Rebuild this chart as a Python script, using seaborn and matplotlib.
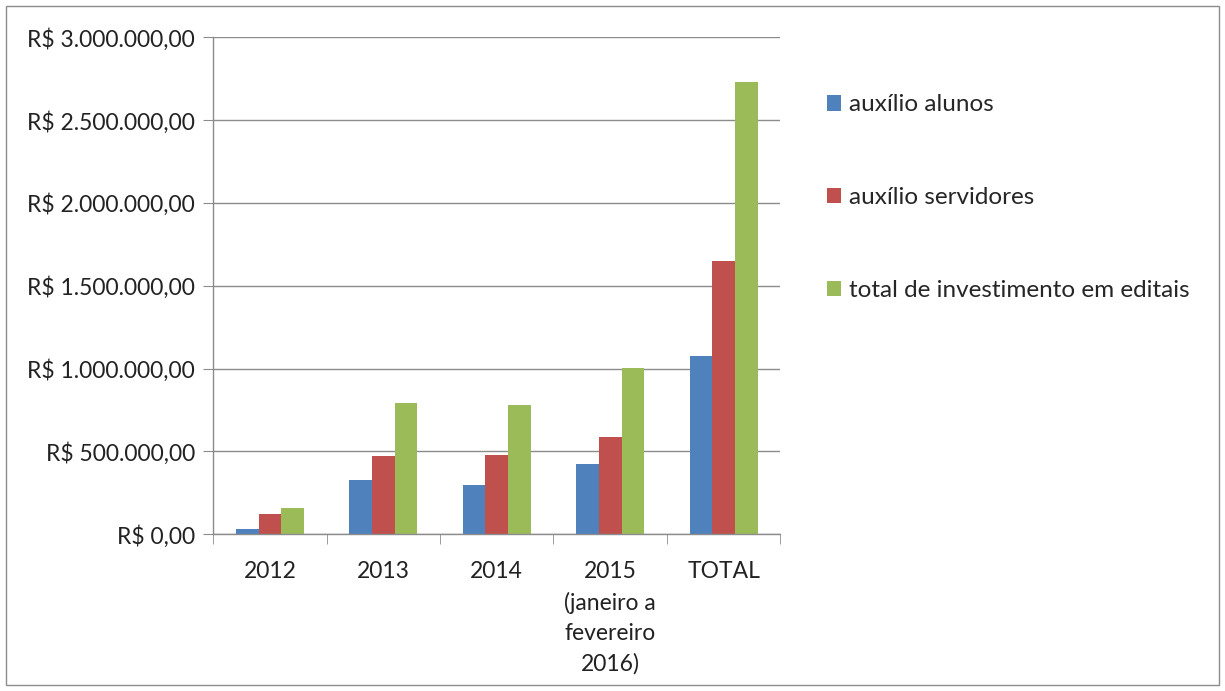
import matplotlib
matplotlib.use("Agg")
import matplotlib.pyplot as plt
import matplotlib.ticker as mticker
from matplotlib.patches import Rectangle
import pandas as pd
import seaborn as sns

categorias = ["2012", "2013", "2014", "2015\n(janeiro a\nfevereiro\n2016)", "TOTAL"]
auxilio_alunos = [34000, 324000, 294000, 421000, 1076000]
auxilio_servidores = [119000, 469000, 479000, 584000, 1648000]
total_editais = [159000, 790000, 778000, 1002000, 2730000]
series = ["auxílio alunos", "auxílio servidores", "total de investimento em editais"]
cores = ["#4F81BD", "#C0504D", "#9BBB59"]

df = pd.DataFrame({
    "categoria": categorias * 3,
    "serie": [series[0]] * 5 + [series[1]] * 5 + [series[2]] * 5,
    "valor": auxilio_alunos + auxilio_servidores + total_editais,
})

sns.set_style("white")
plt.rcParams["font.family"] = ["Lato", "DejaVu Sans"]

fig = plt.figure(figsize=(12.25, 6.91), dpi=100)
ax = fig.add_axes([0.174, 0.227, 0.463, 0.719])

sns.barplot(data=df, x="categoria", y="valor", hue="serie", palette=cores,
            width=0.6, gap=0, saturation=1, linewidth=0, ax=ax, legend=True)

def reais(v, pos):
    s = f"{v:,.2f}".replace(",", "X").replace(".", ",").replace("X", ".")
    return "R$ " + s

ax.set_ylim(0, 3000000)
ax.set_xlim(-0.5, 4.5)
ax.yaxis.set_major_locator(mticker.MultipleLocator(500000))
ax.yaxis.set_major_formatter(mticker.FuncFormatter(reais))
ax.grid(axis="y", color="#8c8c8c", linewidth=1)
ax.set_axisbelow(True)
ax.set_xlabel("")
ax.set_ylabel("")

for s in ["top", "right"]:
    ax.spines[s].set_visible(False)
for s in ["left", "bottom"]:
    ax.spines[s].set_color("#8c8c8c")
    ax.spines[s].set_linewidth(1)

ax.tick_params(axis="y", which="major", left=True, length=7, color="#8c8c8c",
               labelsize=16.5, labelcolor="#222222", pad=6)
ax.tick_params(axis="x", which="major", length=0, labelsize=16.5,
               labelcolor="#222222", pad=19)
ax.set_xticks([i - 0.5 for i in range(6)], minor=True)
ax.tick_params(axis="x", which="minor", bottom=True, length=7, color="#8c8c8c")
for lbl in ax.get_xticklabels():
    lbl.set_verticalalignment("top")
    lbl.set_horizontalalignment("center")
    lbl.set_multialignment("center")
    lbl.set_linespacing(1.55)

h, l = ax.get_legend_handles_labels()
ax.legend(h, l, loc="upper left", bbox_to_anchor=(0.657, 0.895),
          bbox_transform=fig.transFigure, frameon=False, fontsize=17.5,
          handlelength=0.6, handleheight=0.6, handletextpad=0.3,
          labelspacing=2.95)

fig.patches.append(Rectangle((0.005, 0.009), 0.99, 0.982, transform=fig.transFigure,
                             fill=False, edgecolor="#8c8c8c", linewidth=1))

fig.savefig("out.png", dpi=100)
